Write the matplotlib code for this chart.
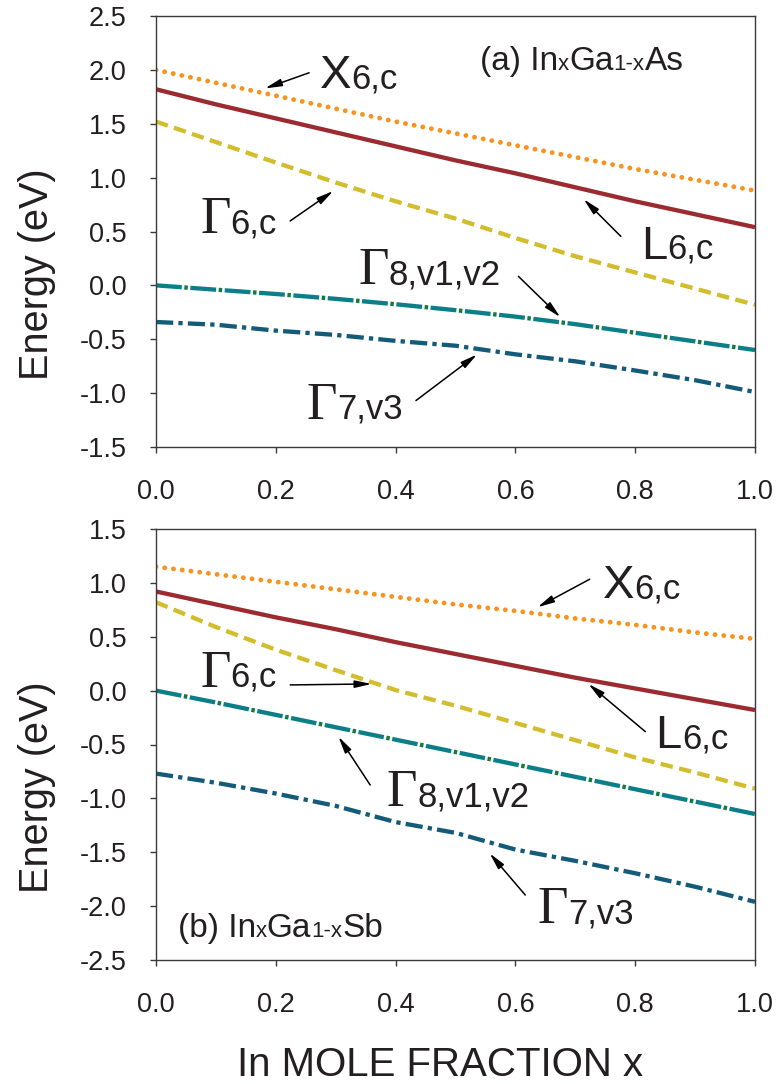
import matplotlib
matplotlib.use("Agg")

import matplotlib.pyplot as plt
from matplotlib.ticker import FormatStrFormatter, MultipleLocator
from matplotlib.transforms import offset_copy

# In mole fraction
mole_x = [0.0, 0.1, 0.2, 0.3, 0.4, 0.5, 0.6, 0.7, 0.8, 0.9, 1.0]

# (a) InGaAs band edges (eV)
as_x6c = [2.00, 1.88, 1.76, 1.64, 1.52, 1.41, 1.30, 1.19, 1.08, 0.98, 0.88]
as_l6c = [1.82, 1.68, 1.55, 1.42, 1.29, 1.16, 1.04, 0.91, 0.78, 0.66, 0.54]
as_g6c = [1.52, 1.33, 1.14, 0.955, 0.78, 0.62, 0.44, 0.27, 0.12, -0.03, -0.18]
as_g8v = [0.0, -0.04, -0.08, -0.125, -0.175, -0.23, -0.29, -0.36, -0.44, -0.52, -0.60]
as_g7v = [-0.34, -0.365, -0.42, -0.46, -0.515, -0.56, -0.64, -0.705, -0.79, -0.88, -0.99]

# (b) InGaSb band edges (eV)
sb_x6c = [1.15, 1.08, 1.01, 0.94, 0.87, 0.80, 0.74, 0.67, 0.61, 0.54, 0.48]
sb_l6c = [0.92, 0.80, 0.68, 0.57, 0.45, 0.34, 0.23, 0.12, 0.02, -0.08, -0.18]
sb_g6c = [0.82, 0.59, 0.38, 0.19, 0.005, -0.14, -0.30, -0.46, -0.62, -0.76, -0.91]
sb_g8v = [0.0, -0.11, -0.225, -0.34, -0.455, -0.57, -0.685, -0.80, -0.915, -1.03, -1.145]
sb_g7v = [-0.77, -0.855, -0.955, -1.07, -1.22, -1.32, -1.475, -1.58, -1.695, -1.82, -1.96]

ORANGE = "#f7931e"
RED = "#9b2b30"
YELLOW = "#d2bd2c"
TEAL = "#0a7f88"
GREEN = "#13793c"
BLUE = "#145b7a"
INK = "#231f20"
SANS = "Liberation Sans"
SERIF = "Liberation Serif"

plt.rcParams["axes.unicode_minus"] = False
plt.rcParams["font.family"] = SANS

fig = plt.figure(figsize=(7.78, 10.84), dpi=100)
ax_a = fig.add_axes([156/778, 1-447/1084, 599/778, 431/1084])
ax_b = fig.add_axes([156/778, 1-960/1084, 599/778, 431/1084])
renderer = fig.canvas.get_renderer()

LW = 3.1


def draw_bands(ax, x6, l6, g6, g8, g7):
    ax.plot(mole_x, x6, color=ORANGE, lw=3.5, linestyle=(0, (0.01, 1.8)),
            dash_capstyle="round")
    ax.plot(mole_x, l6, color=RED, lw=LW, solid_capstyle="butt")
    ax.plot(mole_x, g6, color=YELLOW, lw=LW, linestyle=(0, (2.9, 1.5)))
    ax.plot(mole_x, g8, color=TEAL, lw=LW, linestyle=(0, (6.0, 2.0)))
    ax.plot(mole_x, g8, color=GREEN, lw=LW, linestyle=(1.4, (0.8, 7.2)))
    ax.plot(mole_x, g7, color=BLUE, lw=LW, linestyle=(0, (4.0, 1.2, 1.0, 1.2)))


def chain(ax, x, y, parts):
    dx = 0.0
    for s, size, fam in parts:
        tr = offset_copy(ax.transData, fig=fig, x=dx, y=0, units="dots")
        t = ax.text(x, y, s, fontsize=size, family=fam, transform=tr,
                    ha="left", va="baseline", color=INK)
        dx += t.get_window_extent(renderer).width


def band_label(ax, x, y, main, sub):
    fam = SERIF if main == "\u0393" else SANS
    size = 38 if main == "\u0393" else 34
    chain(ax, x, y, [(main, size, fam), (sub, 25, SANS)])


def arrow(ax, tail, tip):
    ax.annotate("", xy=tip, xytext=tail,
                arrowprops=dict(arrowstyle="-|>,head_length=1.0,head_width=0.22",
                                lw=1.1, color="black", shrinkA=0, shrinkB=0))


def style_axes(ax, ylim, pad_x):
    ax.set_xlim(0, 1)
    ax.set_ylim(*ylim)
    ax.xaxis.set_major_locator(MultipleLocator(0.2))
    ax.yaxis.set_major_locator(MultipleLocator(0.5))
    ax.xaxis.set_major_formatter(FormatStrFormatter("%.1f"))
    ax.yaxis.set_major_formatter(FormatStrFormatter("%.1f"))
    for sp in ax.spines.values():
        sp.set_color("#3a3a3a")
        sp.set_linewidth(1.0)
    ax.tick_params(axis="y", direction="out", length=4.5, width=1.0,
                   color="#3a3a3a", labelsize=19.5, pad=16.5, labelcolor=INK)
    ax.tick_params(axis="x", direction="out", length=4.5, width=1.0,
                   color="#3a3a3a", labelsize=19.5, pad=pad_x, labelcolor=INK)
    ax.set_ylabel("Energy (eV)", fontsize=28.5, color=INK)
    ax.yaxis.set_label_coords(-0.167, 0.40)


style_axes(ax_a, (-1.5, 2.5), 18.5)
style_axes(ax_b, (-2.5, 1.5), 18.5)

draw_bands(ax_a, as_x6c, as_l6c, as_g6c, as_g8v, as_g7v)
draw_bands(ax_b, sb_x6c, sb_l6c, sb_g6c, sb_g8v, sb_g7v)

# panel (a) labels
band_label(ax_a, 0.274, 1.83, "X", "6,c")
band_label(ax_a, 0.0735, 0.483, "\u0393", "6,c")
band_label(ax_a, 0.3375, 0.009, "\u0393", "8,v1,v2")
band_label(ax_a, 0.252, -1.236, "\u0393", "7,v3")
band_label(ax_a, 0.81, 0.248, "L", "6,c")
chain(ax_a, 0.541, 2.0, [("(a) In", 24, SANS), ("x", 16, SANS), ("Ga", 24, SANS),
                         ("1-x", 16, SANS), ("As", 24, SANS)])
arrow(ax_a, (0.2556, 1.973), (0.182, 1.828))
arrow(ax_a, (0.224, 0.598), (0.296, 0.876))
arrow(ax_a, (0.605, 0.084), (0.675, -0.295))
arrow(ax_a, (0.434, -1.069), (0.536, -0.641))
arrow(ax_a, (0.776, 0.455), (0.714, 0.80))

# panel (b) labels
band_label(ax_b, 0.746, 0.858, "X", "6,c")
band_label(ax_b, 0.0735, 0.037, "\u0393", "6,c")
band_label(ax_b, 0.385, -1.071, "\u0393", "8,v1,v2")
band_label(ax_b, 0.834, -0.535, "L", "6,c")
band_label(ax_b, 0.637, -2.16, "\u0393", "7,v3")
chain(ax_b, 0.036, -2.284, [("(b) In", 24, SANS), ("x", 16, SANS), ("Ga", 24, SANS),
                            ("1-x", 16, SANS), ("Sb", 24, SANS)])
arrow(ax_b, (0.724, 1.034), (0.637, 0.774))
arrow(ax_b, (0.224, 0.053), (0.360, 0.062))
arrow(ax_b, (0.3576, -0.876), (0.3046, -0.427))
arrow(ax_b, (0.817, -0.381), (0.722, 0.062))
arrow(ax_b, (0.6165, -1.897), (0.557, -1.51))

ax_b.set_xlabel("In MOLE FRACTION x", fontsize=29, color=INK)
ax_b.xaxis.set_label_coords(0.475, -0.2)

fig.savefig("out.png", dpi=100)
